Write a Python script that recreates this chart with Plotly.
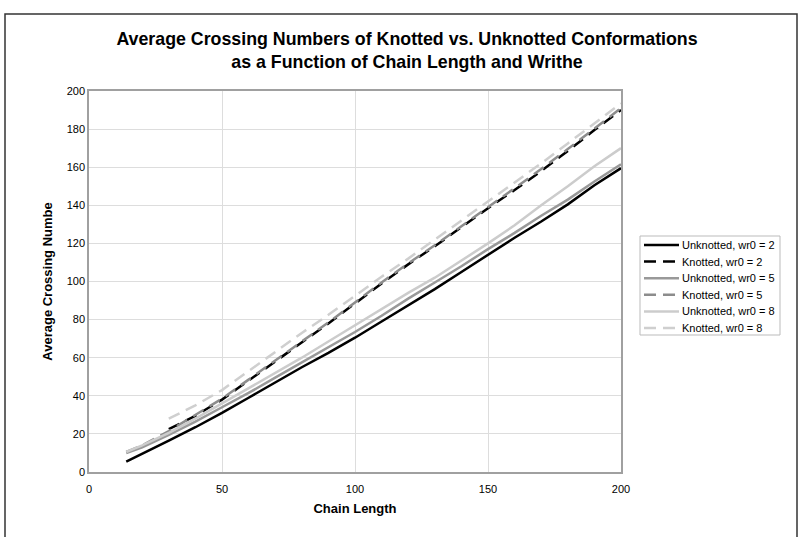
import plotly.graph_objects as go

x_full = [14, 20, 30, 40, 50, 60, 70, 80, 90, 100, 110, 120, 130, 140, 150, 160, 170, 180, 190, 200]
x_k = [30, 40, 50, 60, 70, 80, 90, 100, 110, 120, 130, 140, 150, 160, 170, 180, 190, 200]

unknot_2 = [5.5, 9.5, 16.5, 23.5, 31, 39, 47, 55, 62.5, 70.5, 79, 87.5, 96, 105, 114, 123, 131.5, 140.5, 150.5, 159.5]
knot_2 = [22.5, 29.5, 38, 48, 58, 68, 78, 88.5, 99, 109, 118.5, 128.5, 138.5, 148, 158, 168.5, 179.5, 190]
unknot_5 = [10, 13, 19.5, 26.5, 34, 41.5, 49.5, 57.5, 65.5, 73.5, 82, 91, 99.5, 108, 117, 125.5, 134.5, 143, 152.5, 161.5]
knot_5 = [10.5, 14, 21.5, 30, 38.5, 48.5, 58.5, 68.5, 78.5, 89, 99.5, 109.5, 119, 129, 139, 149, 159, 169.5, 180.5, 191]
unknot_8 = [10.5, 14, 20.5, 28, 36, 44, 52, 60, 68.5, 77, 85.5, 94, 102, 111, 120, 129.5, 140, 150, 160.5, 170]
knot_8 = [28, 35, 43, 53, 63, 73, 82.5, 92.5, 102.5, 112, 122, 132, 142, 152, 162, 172.5, 183, 193.5]

x_ticks = [0, 50, 100, 150, 200]
y_ticks = [0, 20, 40, 60, 80, 100, 120, 140, 160, 180, 200]

series = [
    ("Unknotted, wr0 = 2", x_full, unknot_2, "#000000", "solid"),
    ("Knotted, wr0 = 2", x_k, knot_2, "#000000", "12px,7px"),
    ("Unknotted, wr0 = 5", x_full, unknot_5, "#999999", "solid"),
    ("Knotted, wr0 = 5", x_full, knot_5, "#8c8c8c", "12px,7px"),
    ("Unknotted, wr0 = 8", x_full, unknot_8, "#cccccc", "solid"),
    ("Knotted, wr0 = 8", x_k, knot_8, "#cfcfcf", "12px,7px"),
]

W, H = 801, 537
L, T, PW, PH = 89, 91, 532, 381


def px(xpix):
    return (xpix - L) / PW


def py(ypix):
    return (T + PH - ypix) / PH


fig = go.Figure()
for name, xs, ys, color, dash in series:
    fig.add_trace(go.Scatter(x=xs, y=ys, mode="lines", name=name, showlegend=False,
                             line=dict(color=color, width=2.5, dash=dash)))

font_family = "Liberation Sans, Arial, sans-serif"

shapes = [
    # outer chart frame
    dict(type="rect", xref="paper", yref="paper",
         x0=px(5), x1=px(797), y0=py(560), y1=py(14),
         line=dict(color="#333333", width=1.5), layer="below"),
    # legend box
    dict(type="rect", xref="paper", yref="paper",
         x0=px(640), x1=px(780), y0=py(335), y1=py(236),
         line=dict(color="#bbbbbb", width=1), fillcolor="white"),
]
annotations = []
for i, (name, xs, ys, color, dash) in enumerate(series):
    yy = 245 + 16.6 * i
    shapes.append(dict(type="line", xref="paper", yref="paper",
                       x0=px(644), x1=px(679), y0=py(yy), y1=py(yy),
                       line=dict(color=color, width=2.5, dash=dash)))
    annotations.append(dict(text=name, xref="paper", yref="paper",
                            x=px(680), y=py(yy), xanchor="left", yanchor="middle",
                            showarrow=False, font=dict(size=11, family=font_family, color="#000000")))

fig.update_layout(
    width=W, height=H,
    margin=dict(l=L, r=W - L - PW, t=T, b=H - T - PH),
    paper_bgcolor="white", plot_bgcolor="white",
    font=dict(family=font_family, size=11, color="#000000"),
    title=dict(
        text="<b>Average Crossing Numbers of Knotted vs. Unknotted Conformations<br>as a Function of Chain Length and Writhe</b>",
        x=407 / W, xanchor="center", y=1 - 45 / H, yanchor="middle",
        font=dict(size=17.8, family=font_family, color="#000000"),
    ),
    xaxis=dict(
        range=[0, 200], tickvals=x_ticks, showgrid=True, gridcolor="#dddddd",
        showline=True, linecolor="#a0a0a0", linewidth=1.5, mirror=True,
        ticks="", zeroline=False, ticklabelstandoff=6,
        title=dict(text="<b>Chain Length</b>", font=dict(size=13), standoff=10),
    ),
    yaxis=dict(
        range=[0, 200], tickvals=y_ticks, showgrid=True, gridcolor="#dddddd",
        showline=True, linecolor="#a0a0a0", linewidth=1.5, mirror=True,
        ticks="", zeroline=False,
        title=dict(text="<b>Average Crossing Numbe</b>", font=dict(size=13), standoff=11),
    ),
    shapes=shapes,
    annotations=annotations,
)

fig.write_html("out.html", config={"displayModeBar": False},
               post_script="document.body.style.margin='0';document.body.style.overflow='hidden';")
